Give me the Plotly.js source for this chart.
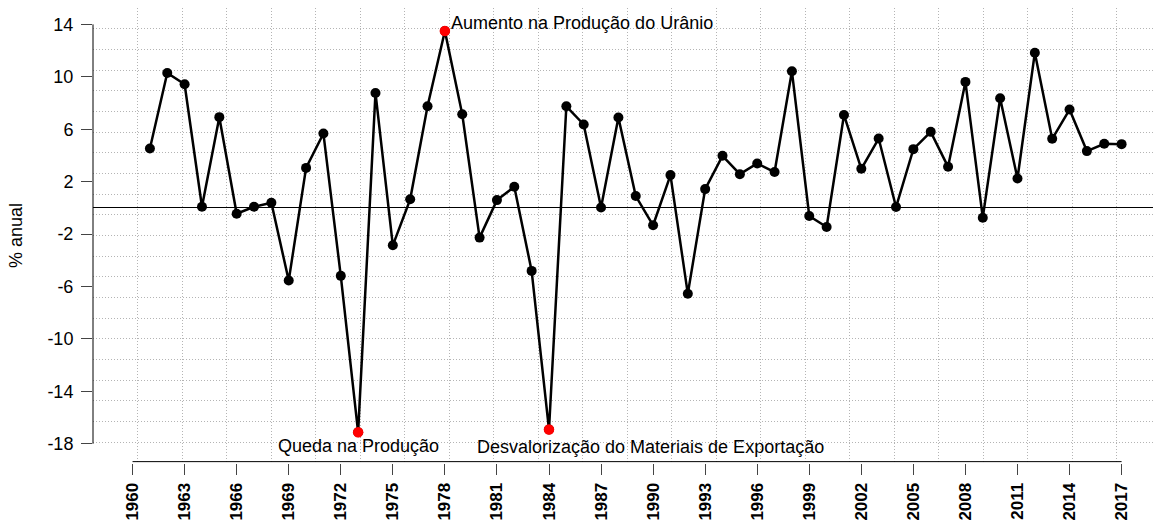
<!DOCTYPE html>
<html>
<head>
<meta charset="utf-8">
<script src="https://cdn.plot.ly/plotly-3.0.1.min.js"></script>
<style>html,body{margin:0;padding:0;background:#fff}#chart{width:1153px;height:521px}</style>
</head>
<body>
<div id="chart"></div>
<script>
// ---- data ----
const years = [1961,1962,1963,1964,1965,1966,1967,1968,1969,1970,
  1971,1972,1973,1974,1975,1976,1977,1978,1979,1980,
  1981,1982,1983,1984,1985,1986,1987,1988,1989,1990,
  1991,1992,1993,1994,1995,1996,1997,1998,1999,2000,
  2001,2002,2003,2004,2005,2006,2007,2008,2009,2010,
  2011,2012,2013,2014,2015,2016,2017];
const growth = [4.53,10.29,9.43,0.08,6.92,-0.45,0.08,0.39,-5.55,3.05,
  5.67,-5.19,-17.13,8.77,-2.86,0.65,7.75,13.49,7.14,-2.27,
  0.59,1.61,-4.81,-16.92,7.75,6.36,0.03,6.89,0.90,-1.33,
  2.50,-6.56,1.43,3.97,2.57,3.39,2.73,10.42,-0.62,-1.46,
  7.09,2.98,5.29,0.06,4.48,5.80,3.13,9.61,-0.75,8.36,
  2.24,11.84,5.27,7.50,4.33,4.89,4.86];
const highlightYears = [1973, 1978, 1984];
const highlightLabels = ["Queda na Produção", "Aumento na Produção do Urânio", "Desvalorização do Materiais de Exportação"];
const xTickYears = [1960,1963,1966,1969,1972,1975,1978,1981,1984,1987,1990,1993,1996,1999,2002,2005,2008,2011,2014,2017];
const yTickVals = [14,10,6,2,-2,-6,-10,-14,-18];
const yTitle = "% anual";

// ---- derived ----
const hlValues = highlightYears.map(y => growth[years.indexOf(y)]);
const FONT = "Liberation Sans, Arial, Helvetica, sans-serif";
const xRange = [1957.72, 2018.81];
const yRange = [-19.47, 15.25];
const xGridStep = (2019.28 - 1957.72) / 24;
const yGridStep = (yRange[1] - yRange[0]) / 22;

const traces = [
  {x: years, y: growth, type: 'scatter', mode: 'lines+markers',
   line: {color: '#000', width: 2.5}, marker: {color: '#000', size: 10},
   hoverinfo: 'x+y', showlegend: false},
  {x: highlightYears, y: hlValues, type: 'scatter', mode: 'markers',
   marker: {color: '#ff0000', size: 10.5}, showlegend: false},
  {x: [], y: [], xaxis: 'x2', yaxis: 'y2', type: 'scatter', showlegend: false, hoverinfo: 'skip'}
];

const annPos = [
  {xanchor: 'center', yanchor: 'top', xshift: 0, yshift: -2},
  {xanchor: 'left', yanchor: 'middle', xshift: 4, yshift: 8},
  {xanchor: 'left', yanchor: 'top', xshift: -74, yshift: -5}
];
const annotations = highlightYears.map((yr, i) => Object.assign({
  x: yr, y: hlValues[i], xref: 'x', yref: 'y', text: highlightLabels[i],
  showarrow: false, font: {family: FONT, size: 18, color: '#000'}
}, annPos[i]));

const layout = {
  width: 1153, height: 521,
  margin: {l: 93, r: 0, t: 7.6, b: 57.6},
  paper_bgcolor: '#fff', plot_bgcolor: '#fff',
  showlegend: false,
  xaxis: {range: xRange, tickmode: 'array', tickvals: xTickYears, ticktext: xTickYears.map(String),
    showgrid: false, zeroline: false, showline: false,
    ticks: 'outside', ticklen: 11, tickcolor: '#444', tickwidth: 1,
    tickangle: -90, tickfont: {family: FONT, size: 17, color: '#000', weight: 'bold'},
    ticklabelstandoff: 1, fixedrange: true},
  yaxis: {range: yRange, tickmode: 'array', tickvals: yTickVals, ticktext: yTickVals.map(String),
    showgrid: false, zeroline: true, zerolinecolor: '#000', zerolinewidth: 1, showline: false,
    ticks: 'outside', ticklen: 11, tickcolor: '#444', tickwidth: 1,
    tickfont: {family: FONT, size: 18, color: '#000'}, ticklabelstandoff: 4,
    title: {text: yTitle, font: {family: FONT, size: 18, color: '#000'}, standoff: 20},
    fixedrange: true},
  xaxis2: {overlaying: 'x', anchor: 'y2', range: xRange, tickmode: 'linear', tick0: xRange[0], dtick: xGridStep,
    showgrid: true, gridcolor: '#b4b4b4', griddash: '1px,2px', gridwidth: 1,
    showticklabels: false, ticks: '', zeroline: false, showline: false, fixedrange: true},
  yaxis2: {overlaying: 'y', anchor: 'x2', range: yRange, tickmode: 'linear', tick0: yRange[0], dtick: yGridStep,
    showgrid: true, gridcolor: '#b4b4b4', griddash: '1px,2px', gridwidth: 1,
    showticklabels: false, ticks: '', zeroline: false, showline: false, fixedrange: true},
  shapes: [
    {type: 'line', xref: 'x', yref: 'paper', x0: xTickYears[0], x1: xTickYears[xTickYears.length - 1], y0: 0.003, y1: 0.003,
     line: {color: '#000', width: 1}},
    {type: 'line', xref: 'paper', yref: 'y', x0: 0, x1: 0, y0: Math.min(...yTickVals), y1: Math.max(...yTickVals),
     line: {color: '#000', width: 1}}
  ],
  annotations: annotations
};

Plotly.newPlot('chart', traces, layout, {displayModeBar: false, staticPlot: true});
</script>
</body>
</html>
